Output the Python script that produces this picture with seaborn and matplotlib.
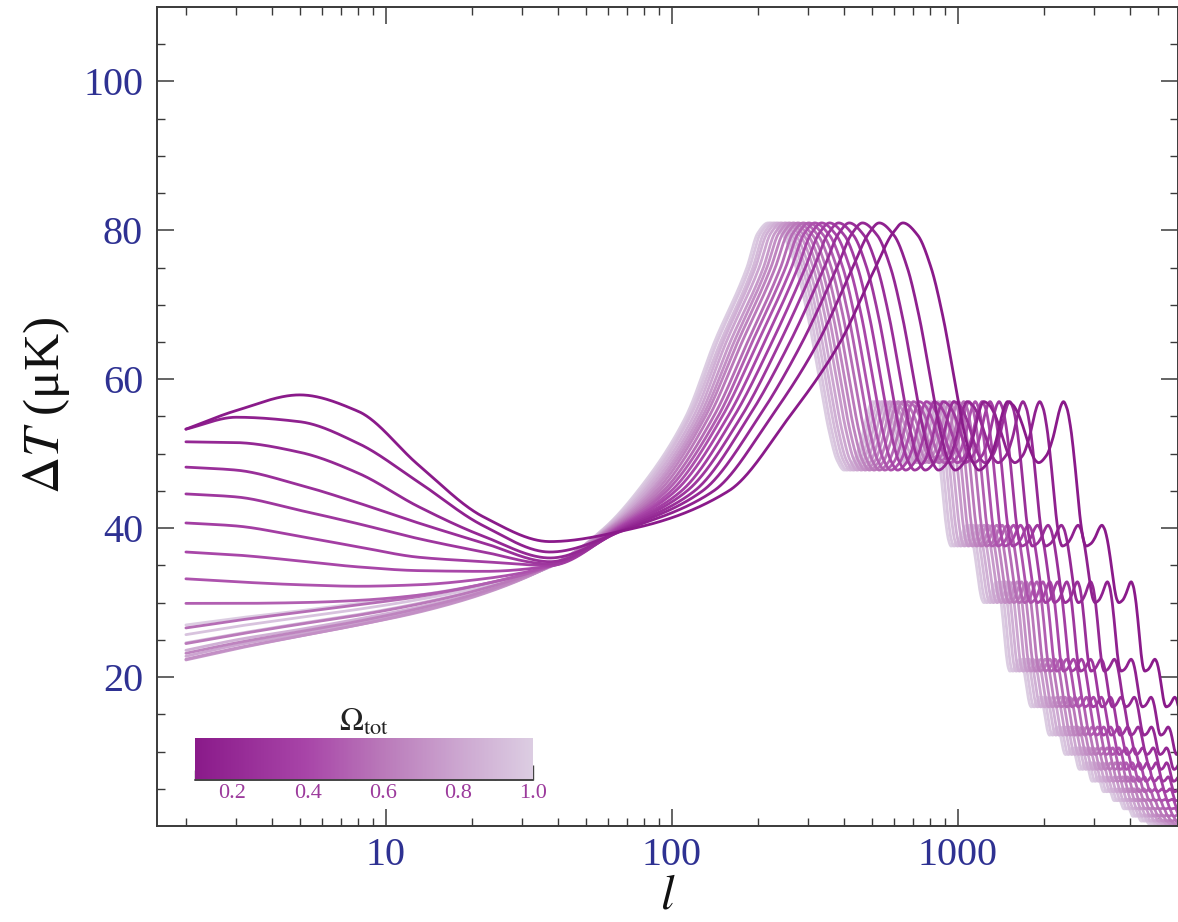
import numpy as np
import pandas as pd
import matplotlib
matplotlib.use("Agg")
import matplotlib.pyplot as plt
import seaborn as sns
from matplotlib.colors import LinearSegmentedColormap, Normalize
from matplotlib.cm import ScalarMappable
from matplotlib.ticker import FixedLocator, LogLocator, NullFormatter, FixedFormatter

# ---- model family: total density parameter of each curve ----
omega = [0.10, 0.15, 0.20, 0.25, 0.30, 0.35, 0.40, 0.45, 0.50, 0.55,
         0.60, 0.65, 0.70, 0.75, 0.80, 0.85, 0.90, 0.95, 1.00]

# multipole of the first acoustic peak for each curve
l_peak = [643, 531, 464, 417, 383, 356, 334, 316, 301, 288,
          276, 266, 257, 249, 241, 234, 228, 222, 217]

# low-multipole values (muK) at l = 2, 3, 5, 8, 13, 22, 37.5
low_l = [2, 3, 5, 8, 13, 22, 37.5]
dT_l2 = [53.3, 53.3, 51.6, 48.2, 44.6, 40.7, 36.8, 33.2, 29.9, 26.6,
         24.5, 23.2, 22.4, 22.3, 22.8, 23.6, 24.6, 25.7, 27.0]
dT_l3 = [55.8, 54.9, 51.5, 47.8, 44.2, 40.3, 36.4, 32.8, 29.9, 27.6,
         25.7, 24.6, 23.9, 23.8, 24.3, 25.0, 25.8, 26.8, 27.9]
dT_l5 = [57.9, 54.3, 50.2, 45.8, 42.4, 38.9, 35.6, 32.4, 30.0, 28.7,
         27.1, 26.1, 25.5, 25.5, 25.8, 26.4, 27.2, 28.0, 28.9]
dT_l8 = [55.7, 51.4, 47.4, 43.4, 40.6, 37.5, 34.8, 32.2, 30.3, 29.7,
         28.3, 27.5, 27.0, 27.0, 27.3, 27.8, 28.4, 29.1, 29.9]
dT_l13 = [48.5, 46.2, 42.9, 40.7, 38.6, 36.1, 34.3, 32.4, 31.0, 30.8,
          29.8, 29.2, 28.8, 28.7, 29.0, 29.4, 29.9, 30.4, 31.0]
dT_l22 = [41.5, 40.3, 38.9, 38.0, 36.8, 35.5, 34.2, 33.2, 32.5, 32.5,
          31.9, 31.5, 31.3, 31.2, 31.4, 31.6, 31.9, 32.2, 32.5]
dT_l37 = [38.2, 36.8, 36.0, 35.5, 35.2, 35.0, 34.9, 34.9, 34.9, 34.9,
          34.9, 34.9, 34.9, 34.9, 34.9, 34.9, 34.8, 34.8, 34.8]

# rising flank: multipole where each curve crosses 40, 45, 55, 65, 75 muK
l_at_40 = [74, 71, 69.3, 68.0, 66.9, 65.9, 65.0, 64.2, 63.4, 62.6,
           61.9, 61.2, 60.7, 60.2, 59.6, 59.2, 58.7, 58.3, 58]
l_at_45 = [158, 140, 128, 120, 113, 108, 103, 99.5, 96.0, 93.3,
           90.6, 88.2, 86.0, 84.1, 82.1, 80.3, 78.8, 77.3, 76]
l_at_55 = [258, 223, 202, 186, 175, 165, 157, 150, 145, 140,
           135, 131, 128, 125, 122, 119, 116, 114, 112]
l_at_65 = [388, 325, 286, 259, 239, 224, 211, 200, 191, 184,
           176, 170, 165, 160, 155, 151, 148, 144, 141]
l_at_75 = [515, 429, 378, 341, 314, 293, 276, 262, 250, 240,
           230, 222, 215, 209, 202, 196, 192, 187, 183]
flank_levels = [40, 45, 55, 65, 75]
shoulder_ratio, shoulder_value = 0.92, 79.6

# acoustic peaks, positions in units of the first-peak multipole
peak_ratio = [1.00, 2.32, 3.64, 4.96, 6.28, 7.60, 8.92, 10.24, 11.56, 12.88, 14.20,
              15.52, 16.84, 18.16, 19.48, 20.80, 22.12, 23.44, 24.76, 26.08, 27.40, 28.72]
peak_height = [81.0, 57.0, 57.0, 40.4, 32.8, 22.4, 17.3, 13.3, 10.5, 8.5, 6.6,
               5.0, 3.6, 2.4, 1.5, 0.8, 0.35, 0.15, 0.05, 0.0, 0.0, 0.0]
trough_height = [47.8, 48.8, 37.6, 30.0, 20.8, 16.0, 12.2, 9.6, 7.6, 6.0, 4.6,
                 3.4, 2.3, 1.3, 0.65, 0.28, 0.1, 0.03, 0.0, 0.0, 0.0]
trough_position = [0.64, 0.50] + [0.55] * 19

# shape of one peak-to-peak segment: drop after a peak, rise into the next
desc_u = [0.15, 0.30, 0.45, 0.60, 0.75, 0.88, 1.00]
desc_drop = [0.05, 0.18, 0.38, 0.62, 0.84, 0.96, 1.00]
asc_v = [0.30, 0.55, 0.80, 0.92]
asc_rise = [0.12, 0.40, 0.82, 0.96]

cbar_ticks = [0.2, 0.4, 0.6, 0.8, 1.0]
y_major = [20, 40, 60, 80, 100]
x_major = [10, 100, 1000]


def pchip(xk, yk, xs):
    """Monotone piecewise-cubic Hermite curve through the knots."""
    xk = np.asarray(xk, float)
    yk = np.asarray(yk, float)
    h = np.diff(xk)
    d = np.diff(yk) / h
    m = np.zeros_like(yk)
    for k in range(1, len(xk) - 1):
        if d[k - 1] * d[k] > 0:
            w1 = 2 * h[k] + h[k - 1]
            w2 = h[k] + 2 * h[k - 1]
            m[k] = (w1 + w2) / (w1 / d[k - 1] + w2 / d[k])
    m[0], m[-1] = d[0], d[-1]
    idx = np.clip(np.searchsorted(xk, xs) - 1, 0, len(xk) - 2)
    t = (xs - xk[idx]) / h[idx]
    h00 = 2 * t**3 - 3 * t**2 + 1
    h10 = t**3 - 2 * t**2 + t
    h01 = -2 * t**3 + 3 * t**2
    h11 = t**3 - t**2
    return (h00 * yk[idx] + h10 * h[idx] * m[idx]
            + h01 * yk[idx + 1] + h11 * h[idx] * m[idx + 1])


# knots of the acoustic tail, relative to the first peak
tail_r, tail_T = [], []
for n in range(len(peak_ratio) - 1):
    r0, r1 = peak_ratio[n], peak_ratio[n + 1]
    p0, p1, tr = peak_height[n], peak_height[n + 1], trough_height[n]
    ft = trough_position[n]
    span = r1 - r0
    tail_r.append(r0)
    tail_T.append(p0)
    for u, dd in zip(desc_u, desc_drop):
        tail_r.append(r0 + u * ft * span)
        tail_T.append(p0 - dd * (p0 - tr))
    for v, rr in zip(asc_v, asc_rise):
        tail_r.append(r0 + (ft + v * (1 - ft)) * span)
        tail_T.append(tr + rr * (p1 - tr))
tail_r.append(peak_ratio[-1])
tail_T.append(peak_height[-1])
tail_r = np.array(tail_r)

l_grid = np.logspace(np.log10(2), np.log10(6000), 1800)
frames = []
for i, om in enumerate(omega):
    lows = [dT_l2[i], dT_l3[i], dT_l5[i], dT_l8[i], dT_l13[i], dT_l22[i], dT_l37[i]]
    flank_l = [l_at_40[i], l_at_45[i], l_at_55[i], l_at_65[i], l_at_75[i]]
    lk = low_l + flank_l + [shoulder_ratio * l_peak[i]] + list(tail_r * l_peak[i])
    tk = lows + flank_levels + [shoulder_value] + tail_T
    dT = pchip(np.log10(lk), tk, np.log10(l_grid))
    frames.append(pd.DataFrame({"l": l_grid, "dT": dT, "omega": om}))
spectra = pd.concat(frames, ignore_index=True)

# ---- styling ----
sns.set_theme(style="ticks")
plt.rcParams["font.family"] = ["Liberation Serif", "DejaVu Serif"]
plt.rcParams["mathtext.fontset"] = "stix"

cmap = LinearSegmentedColormap.from_list(
    "omega_purple",
    [(0.0, "#8a1a8a"), (0.33, "#a845a8"), (0.55, "#b978b9"),
     (0.78, "#cca6d0"), (1.0, "#dccde2")])
norm = Normalize(vmin=0.1, vmax=1.0)

W, H = 1178, 922
fig = plt.figure(figsize=(W / 100, H / 100), dpi=100)
fig.patch.set_facecolor("white")
ax = fig.add_axes([157 / W, (H - 826) / H, (W - 157) / W, (826 - 7) / H])

# darker (low-density) curves drawn last so they sit on top
for om in omega[::-1]:
    sub = spectra[spectra["omega"] == om]
    sns.lineplot(data=sub, x="l", y="dT", color=cmap(norm(om)), lw=2.0,
                 ax=ax, legend=False, estimator=None, sort=False)

ax.set_xscale("log")
ax.set_xlim(10 ** 0.2, 10 ** (0.2 + (W - 157) / 286.0))
ax.set_ylim(0, 110)

spine_col = "#3a3a3a"
for s in ax.spines.values():
    s.set_color(spine_col)
    s.set_linewidth(1.4)

ax.xaxis.set_major_locator(FixedLocator(x_major))
ax.xaxis.set_major_formatter(FixedFormatter([str(v) for v in x_major]))
ax.xaxis.set_minor_locator(LogLocator(base=10, subs=np.arange(2, 10), numticks=20))
ax.xaxis.set_minor_formatter(NullFormatter())
ax.yaxis.set_major_locator(FixedLocator(y_major))
ax.yaxis.set_major_formatter(FixedFormatter([str(v) for v in y_major]))
ax.yaxis.set_minor_locator(FixedLocator([v for v in range(5, 110, 5) if v % 20]))

ax.tick_params(which="both", direction="in", top=True, right=True,
               color=spine_col, labelcolor="#2e3192")
ax.tick_params(which="major", length=12, width=1.1, labelsize=29, pad=10)
ax.tick_params(axis="x", which="major", pad=8)
ax.tick_params(which="minor", length=6, width=1.0)

ax.set_xlabel("$l$", fontsize=35, color="#111111", va="bottom")
ax.xaxis.set_label_coords(0.5, (826 - 918) / 819)
ax.set_ylabel(r"$\Delta T$ (μK)", fontsize=37, color="#111111", va="center")
ax.yaxis.set_label_coords(-0.108, 0.513)

# ---- colour key for the density parameter ----
cax = fig.add_axes([195 / W, (H - 780) / H, 338 / W, 42 / H])
sm = ScalarMappable(norm=norm, cmap=cmap)
cbar = fig.colorbar(sm, cax=cax, orientation="horizontal")
cbar.outline.set_visible(False)
cbar.set_ticks(cbar_ticks)
cbar.set_ticklabels([f"{t:.1f}" for t in cbar_ticks])
cax.xaxis.set_minor_locator(FixedLocator([0.1, 0.3, 0.5, 0.7, 0.9]))
cax.tick_params(axis="x", which="both", direction="in", color="#444444",
                labelcolor="#9c3a9c", labelsize=16, pad=3)
cax.tick_params(axis="x", which="major", length=11, width=1.0)
cax.tick_params(axis="x", which="minor", length=7, width=1.0)
cax.plot([0, 1], [0, 0], transform=cax.transAxes, color="#444444",
         lw=1.4, clip_on=False)
cax.set_title(r"$\Omega_{\rm tot}$", fontsize=23, color="#222222", pad=3)

fig.savefig("out.png", dpi=100, facecolor="white")
